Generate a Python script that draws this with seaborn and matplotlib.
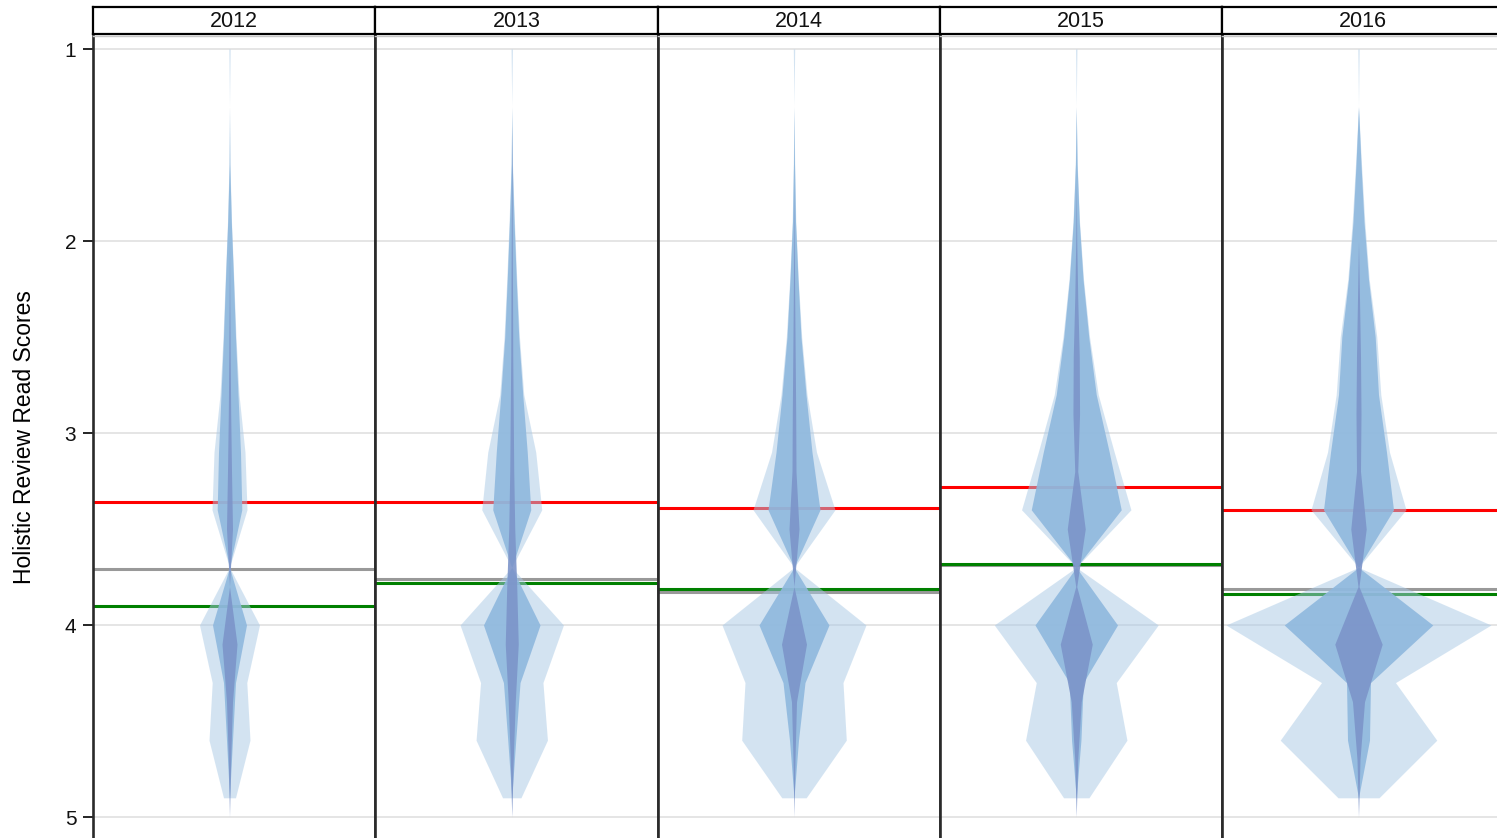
import numpy as np
import pandas as pd
import matplotlib
matplotlib.use("Agg")
import matplotlib.pyplot as plt
import seaborn as sns

years = [2012, 2013, 2014, 2015, 2016]

# score levels where the half-widths are read (light / medium layers share one grid)
levels = [1.0, 1.3, 1.6, 1.9, 2.2, 2.5, 2.8, 3.1, 3.4, 3.7, 4.0, 4.3, 4.6, 4.9]
dark_levels = [1.1, 1.4, 1.7, 2.0, 2.3, 2.6, 2.9, 3.2, 3.5, 3.8, 4.1, 4.4, 4.7, 5.0]

light_widths = [
    [0.7, 0, 0.5, 2.0, 4.3, 6.5, 9.5, 15.5, 17.5, 0, 30, 17.3, 20.5, 6],
    [0.7, 0, 0.7, 2.7, 5.0, 7.7, 12, 24, 30, 0, 51.7, 31.2, 35.7, 9.2],
    [0.7, 0, 0.7, 1.8, 4.3, 7.7, 13, 22.5, 41, 0, 72, 49, 52.3, 12.2],
    [0.7, 0, 1.0, 3.3, 7.3, 13.3, 22, 38, 54.7, 0, 82, 40, 50.7, 12.7],
    [0.7, 0, 3.0, 6.3, 10.7, 18.3, 22.3, 31, 47.5, 0, 132.5, 37, 78.3, 20.5],
]
medium_widths = [
    [0, 0, 0.3, 1.8, 4.0, 6.0, 8.5, 11, 12.3, 0, 17, 6, 3, 0],
    [0, 0, 0.5, 2.3, 4.5, 7.0, 11, 15.5, 19, 0, 28.3, 8.3, 4, 0],
    [0, 0, 0.5, 1.5, 4.0, 7.0, 12, 18, 26, 0, 35, 11, 4.5, 0],
    [0, 0, 0.8, 3.0, 6.8, 12.5, 20, 33, 45, 0, 41.3, 7, 4.7, 0],
    [0, 0, 2.5, 5.5, 10, 16.7, 20, 28, 35, 0, 74.3, 12, 11, 0],
]
dark_widths = [
    [0, 0, 0, 0, 0.3, 0.7, 1.2, 2, 3, 0, 7.5, 3, 1.2, 0],
    [0, 0, 0.3, 0.5, 0.8, 1.0, 1.5, 2, 3, 5, 6.5, 3.5, 1.5, 0],
    [0, 0, 0, 0.3, 0.7, 1.2, 1.7, 2, 5, 0, 12.5, 2.5, 1, 0],
    [0, 0, 0, 0.5, 1.5, 3.0, 3.3, 1.5, 9, 0.5, 16, 5, 1.5, 0],
    [0, 0, 0, 0, 1.0, 2.0, 2.5, 2, 7.7, 0.5, 23.7, 6, 1.5, 0],
]

red_line = [3.36, 3.36, 3.39, 3.28, 3.40]
gray_line = [3.71, 3.76, 3.83, 3.69, 3.81]
green_line = [3.90, 3.78, 3.81, 3.68, 3.84]

layer_colors = {"light": ("#a9c9e5", 0.5), "medium": ("#8fb8de", 0.9), "dark": ("#7c94c9", 0.9)}

rows = []
for i, yr in enumerate(years):
    for lev, w in zip(levels, light_widths[i]):
        rows.append((yr, "light", lev, w))
    for lev, w in zip(levels, medium_widths[i]):
        rows.append((yr, "medium", lev, w))
    for lev, w in zip(dark_levels, dark_widths[i]):
        rows.append((yr, "dark", lev, w))
df = pd.DataFrame(rows, columns=["year", "layer", "score", "width"])
lines = pd.DataFrame({"year": years, "red": red_line, "gray": gray_line, "green": green_line})


def draw_shapes(data, **kws):
    ax = plt.gca()
    yr = data["year"].iloc[0]
    ln = lines[lines.year == yr].iloc[0]
    ax.axhline(ln["red"], color="#ff0000", lw=2.2, zorder=1)
    ax.axhline(ln["gray"], color="#999999", lw=2.2, zorder=1)
    ax.axhline(ln["green"], color="#008000", lw=2.2, zorder=1)
    for k, layer in enumerate(["light", "medium", "dark"]):
        d = data[data.layer == layer]
        c, a = layer_colors[layer]
        ax.fill_betweenx(d["score"], -d["width"], d["width"], color=c, alpha=a,
                         lw=0, zorder=2 + k)


sns.set_theme(style="white")
plt.rcParams["font.family"] = ["Liberation Sans", "DejaVu Sans"]

g = sns.FacetGrid(df, col="year", col_order=years, sharey=True, sharex=True)
g.map_dataframe(draw_shapes)
fig = g.figure
fig.set_size_inches(14.97, 8.38)
W, H = 1497, 838

panel_w = 282.25
top_px, bot_px = 36, 842
y_per = 192.0
y_top = 1 - (49 - top_px) / y_per
y_bot = 1 + (bot_px - 49) / y_per

for i, (yr, ax) in enumerate(zip(years, g.axes.flat)):
    left = 93 + i * panel_w
    ax.set_position([left / W, 1 - bot_px / H, panel_w / W, (bot_px - top_px) / H])
    ax.set_xlim(-136.5, panel_w - 136.5)
    ax.set_ylim(y_bot, y_top)
    ax.set_title("")
    ax.set_xlabel("")
    ax.set_ylabel("")
    ax.set_xticks([])
    ax.set_yticks([1, 2, 3, 4, 5])
    for v in [1, 2, 3, 4, 5]:
        ax.axhline(v, color="#e3e3e3", lw=1.3, zorder=0)
    for s in ["left", "right"]:
        ax.spines[s].set_visible(True)
        ax.spines[s].set_color("#2a2a2a")
        ax.spines[s].set_linewidth(1.9)
    ax.spines["top"].set_visible(True)
    ax.spines["top"].set_color("#c8c8c8")
    ax.spines["top"].set_linewidth(1.0)
    ax.spines["bottom"].set_visible(False)
    if i == 0:
        ax.tick_params(axis="y", left=True, length=7, width=1.2, color="black",
                       labelsize=15, pad=5, labelcolor="#111111")
        ax.set_yticklabels(["1", "2", "3", "4", "5"])
    else:
        ax.tick_params(axis="y", left=False, labelleft=False)

    # strip with the year
    sax = fig.add_axes([left / W, 1 - 34 / H, panel_w / W, 27 / H])
    sax.set_xticks([])
    sax.set_yticks([])
    for s in sax.spines.values():
        s.set_visible(True)
        s.set_color("black")
        s.set_linewidth(1.6)
    sax.set_facecolor("white")
    sax.text(0.5, 0.47, str(yr), ha="center", va="center", fontsize=15.5,
             color="#111111", transform=sax.transAxes)

fig.text(25 / W, 1 - 437 / H, "Holistic Review Read Scores", rotation=90,
         ha="center", va="center", fontsize=16.5, color="black")

fig.savefig("out.png", dpi=100)
